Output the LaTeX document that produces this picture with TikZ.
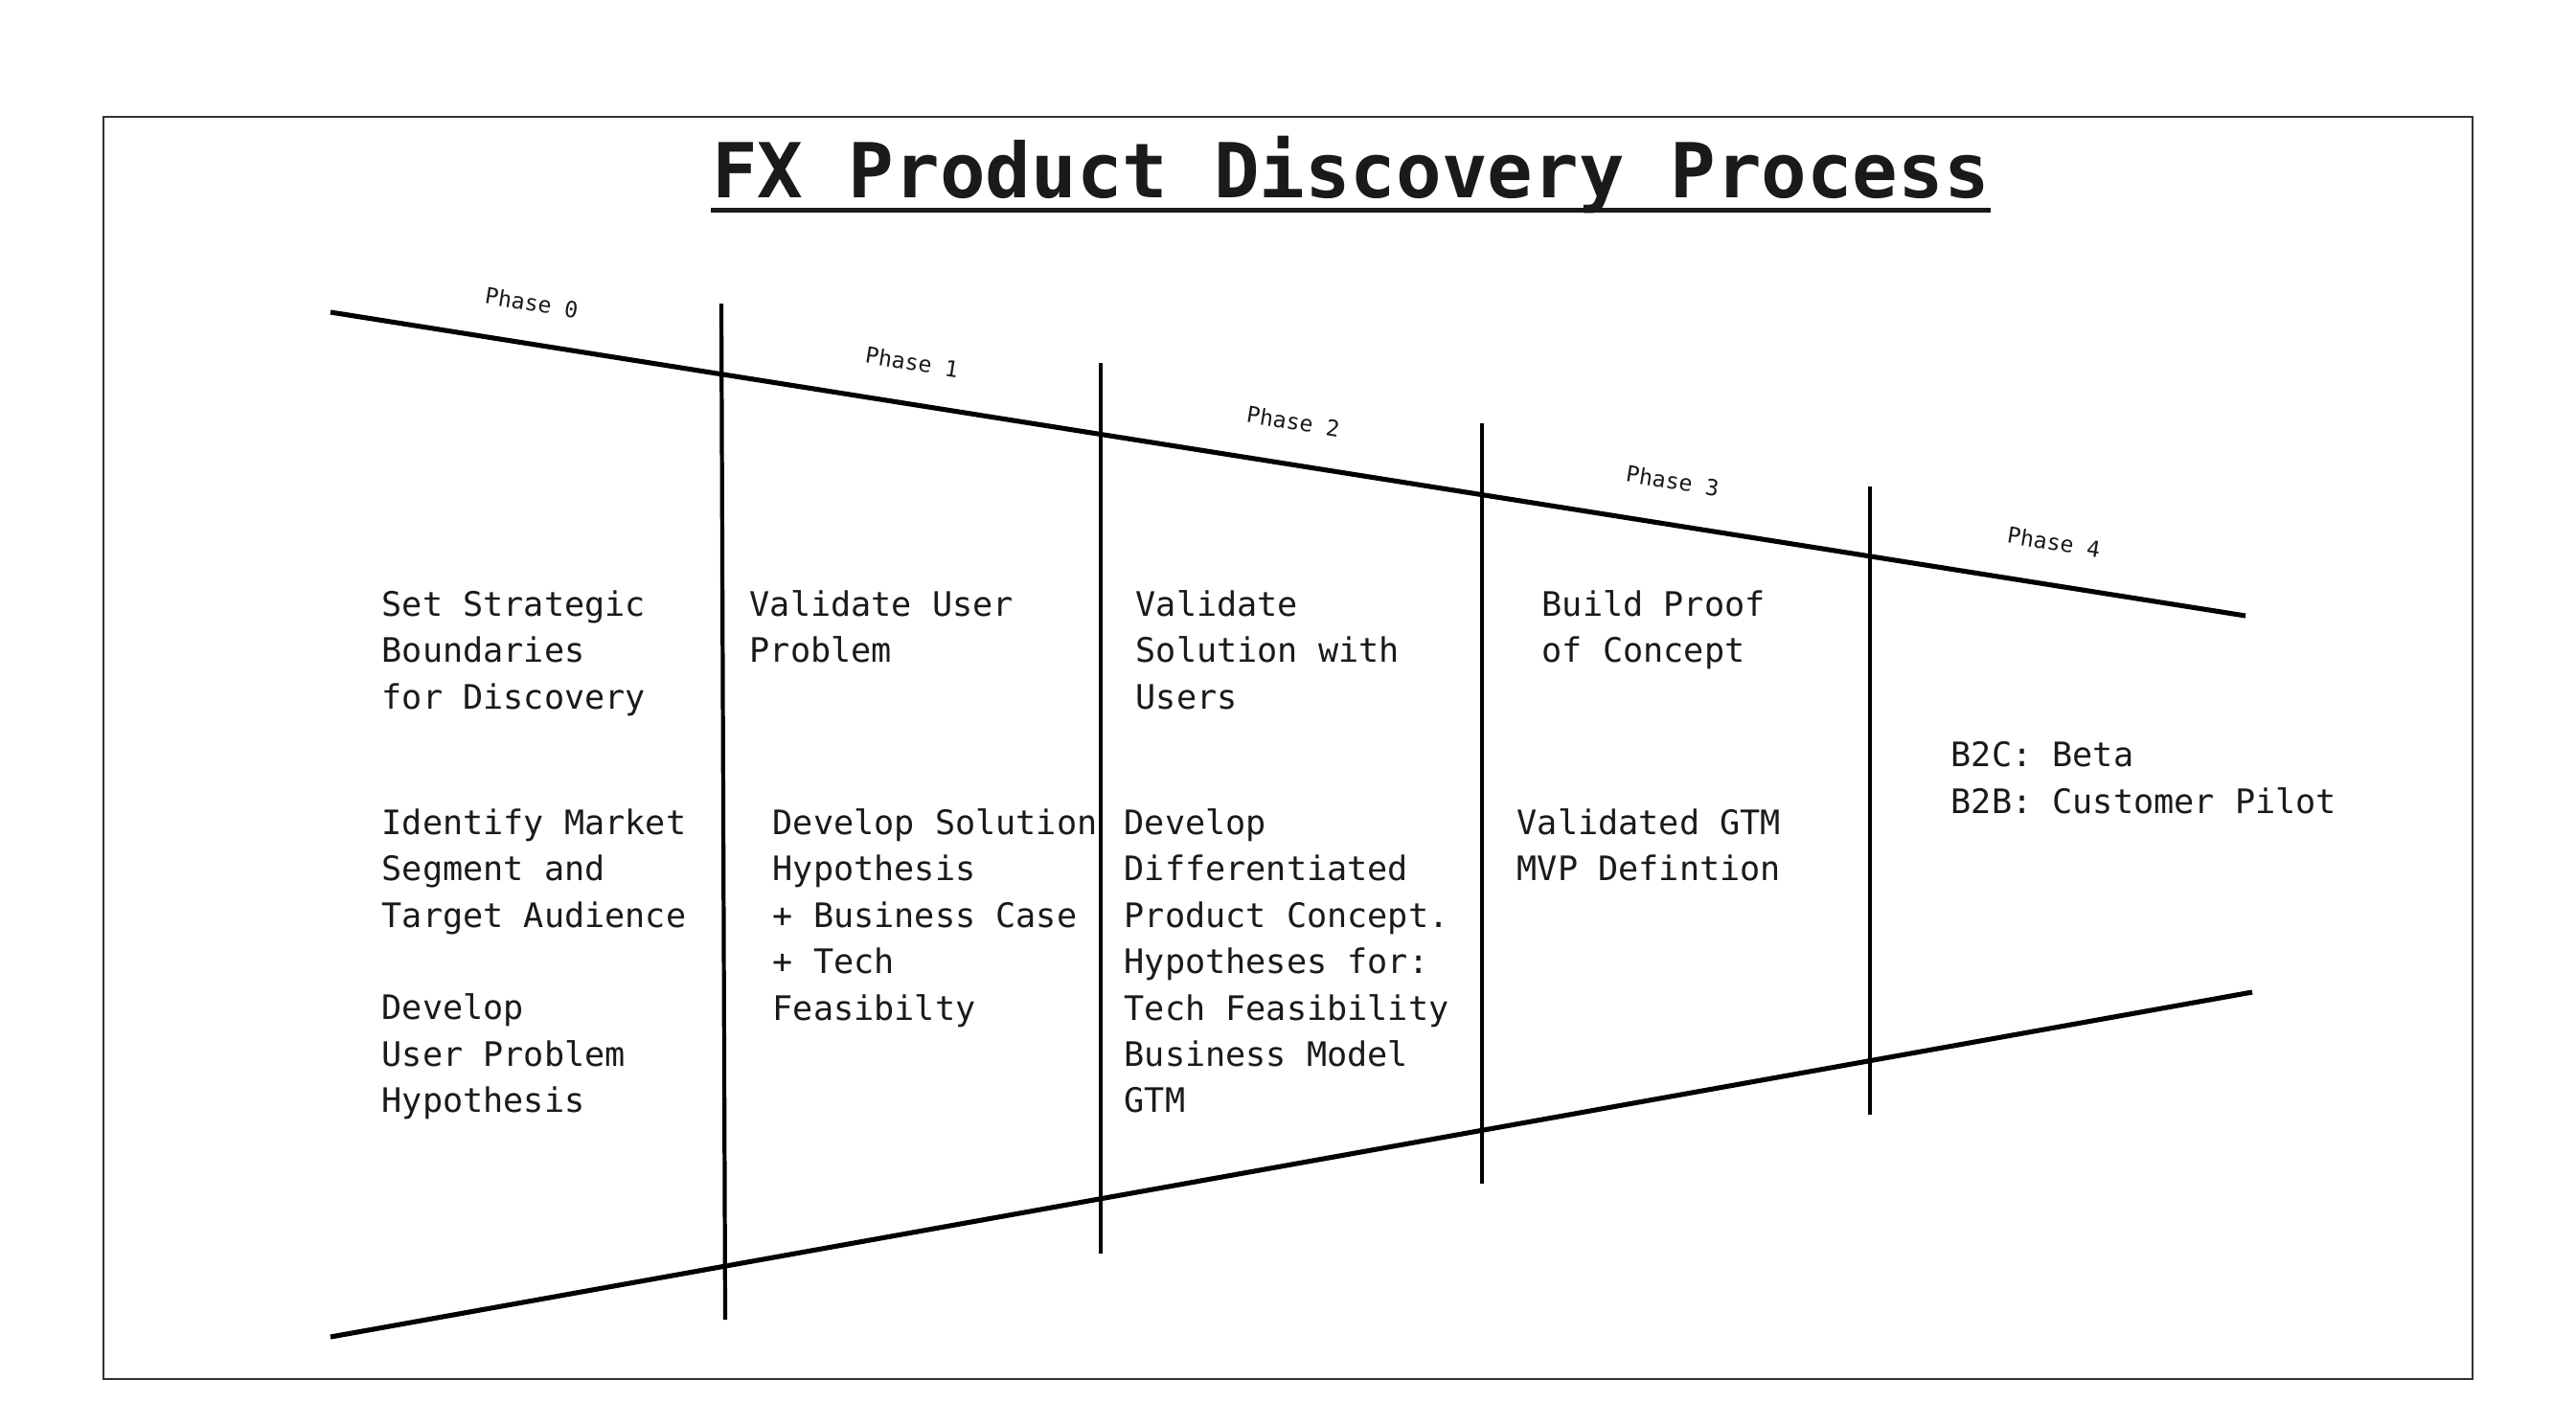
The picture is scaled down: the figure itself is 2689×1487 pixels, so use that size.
\documentclass[tikz,border=0pt]{standalone}
\usepackage{fontspec}
\setmonofont{DejaVu Sans Mono}
\newfontfamily\bodyfont{DejaVu Sans Mono}
\definecolor{ink}{HTML}{1A1A1A}
\definecolor{framegray}{HTML}{333333}
\begin{document}
\begin{tikzpicture}[x=0.01cm,y=-0.01cm,
  mainline/.style={line width=1.45pt,black},
  divider/.style={line width=1.2pt,black},
  body/.style={anchor=north west,inner sep=0pt,align=left,text=ink,
    font=\bodyfont\fontsize{10pt}{13.75pt}\selectfont},
  phaselabel/.style={inner sep=0pt,rotate=-9,text=ink,
    font=\bodyfont\fontsize{6.6pt}{8pt}\selectfont},
  titletext/.style={inner sep=0pt,anchor=base,text=ink,
    font=\bodyfont\bfseries\fontsize{22.5pt}{26pt}\selectfont}]
\useasboundingbox[fill=white] (0,0) rectangle (2689,1487);
\draw[framegray,line width=0.6pt] (108,122) rectangle (2581,1440);
% title
\node[titletext] (title) at (1410,206) {FX Product Discovery Process};
\draw[ink,line width=1.4pt] ([yshift=-3.8pt]title.base west) -- ([yshift=-3.8pt]title.base east);
% funnel lines
\coordinate (tl) at (345,326);
\coordinate (tr) at (2344,643);
\coordinate (bl) at (345,1396);
\coordinate (br) at (2351,1036);
\draw[mainline] (tl) -- (tr);
\draw[mainline] (bl) -- (br);
% dividers
\coordinate (v1t) at (753,317);  \coordinate (v1b) at (757,1378);
\coordinate (v2t) at (1149,379); \coordinate (v2b) at (1149,1309);
\coordinate (v3t) at (1547,442); \coordinate (v3b) at (1547,1236);
\coordinate (v4t) at (1952,508); \coordinate (v4b) at (1952,1164);
\draw[divider] (v1t) -- (v1b);
\draw[divider] (v2t) -- (v2b);
\draw[divider] (v3t) -- (v3b);
\draw[divider] (v4t) -- (v4b);
% phase labels
\node[phaselabel] (p0) at (555,316) {Phase 0};
\node[phaselabel] (p1) at (952,378) {Phase 1};
\node[phaselabel] (p2) at (1350,440) {Phase 2};
\node[phaselabel] (p3) at (1746,502) {Phase 3};
\node[phaselabel] (p4) at (2144,566) {Phase 4};
% upper texts
\node[body] (a) at (398,616) {Set Strategic\\Boundaries\\for Discovery};
\node[body] (b) at (782,616) {Validate User\\Problem};
\node[body] (c) at (1185,616) {Validate\\Solution with\\Users};
\node[body] (d) at (1609,616) {Build Proof\\of Concept};
\node[body] (e) at (2036,774) {B2C: Beta\\B2B: Customer Pilot};
% lower texts
\node[body] (f) at (398,844) {Identify Market\\Segment and\\Target Audience\\[13.75pt]Develop\\User Problem\\Hypothesis};
\node[body] (g) at (806,844) {Develop Solution\\Hypothesis\\+ Business Case\\+ Tech\\Feasibilty};
\node[body] (h) at (1173,844) {Develop\\Differentiated\\Product Concept.\\Hypotheses for:\\Tech Feasibility\\Business Model\\GTM};
\node[body] (i) at (1583,844) {Validated GTM\\MVP Defintion};
\end{tikzpicture}
\end{document}
